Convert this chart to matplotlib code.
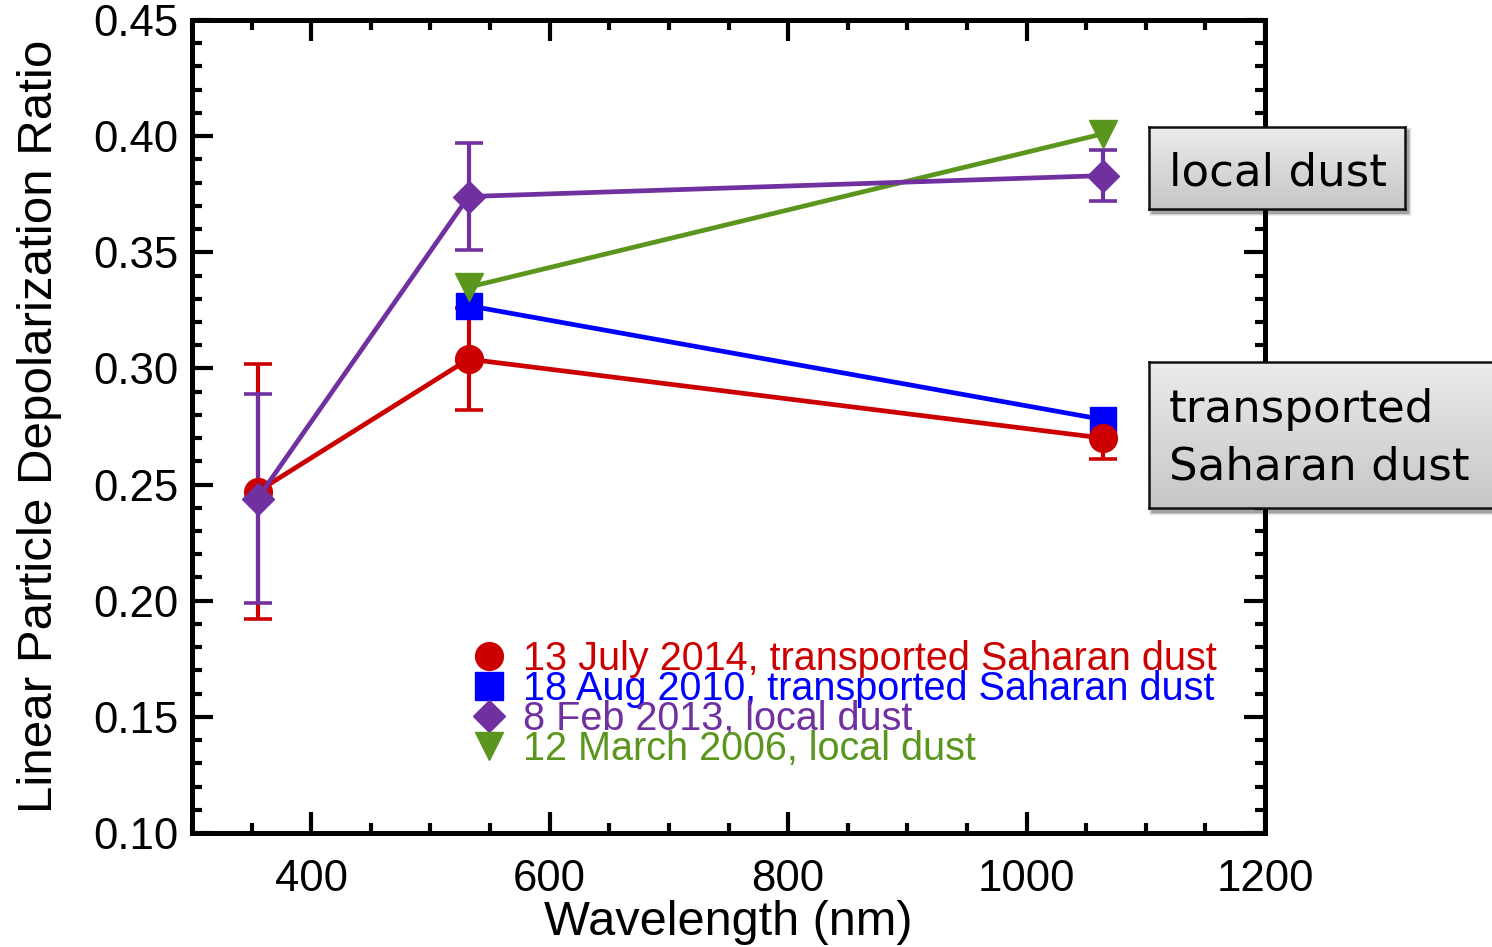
import numpy as np
import matplotlib
matplotlib.use("Agg")
import matplotlib.pyplot as plt
from matplotlib.ticker import MultipleLocator, FormatStrFormatter
from matplotlib.lines import Line2D
from matplotlib.patches import Rectangle
from matplotlib.colors import LinearSegmentedColormap

# ---- data -------------------------------------------------------------
wl_all = [355, 532, 1064]
wl_vis_ir = [532, 1064]

july2014 = [0.247, 0.304, 0.270]
july2014_err = [0.055, 0.022, 0.009]

aug2010 = [0.327, 0.278]

feb2013 = [0.244, 0.374, 0.383]
feb2013_err = [0.045, 0.023, 0.011]

march2006 = [0.335, 0.401]

labels = ["13 July 2014, transported Saharan dust",
          "18 Aug 2010, transported Saharan dust",
          "8 Feb 2013, local dust",
          "12 March 2006, local dust"]
colors = ["#cc0000", "#0000ff", "#7030a0", "#5a961e"]
markers = ["o", "s", "D", "v"]

W, H = 1492, 947
plt.rcParams["font.family"] = ["Liberation Sans", "DejaVu Sans"]

fig = plt.figure(figsize=(W / 100, H / 100), dpi=100)
ax = fig.add_axes([192 / W, 1 - 833 / H, (1265 - 192) / W, (833 - 20) / H])

lw = 3.4
ms = 20
err_kw = dict(elinewidth=3.0, capsize=10, capthick=2.6)

ax.errorbar(wl_all, july2014, yerr=july2014_err, color=colors[0], marker="o",
            ms=ms, lw=lw, **err_kw)
ax.plot(wl_vis_ir, aug2010, color=colors[1], marker="s", ms=ms - 1, lw=lw)
ax.errorbar(wl_all, feb2013, yerr=feb2013_err, color=colors[2], marker="D",
            ms=ms - 4, lw=lw, **err_kw)
ax.plot(wl_vis_ir, march2006, color=colors[3], marker="v", ms=ms, lw=lw)

ax.set_xlim(300, 1200)
ax.set_ylim(0.10, 0.45)
ax.xaxis.set_major_locator(MultipleLocator(200))
ax.xaxis.set_minor_locator(MultipleLocator(50))
ax.yaxis.set_major_locator(MultipleLocator(0.05))
ax.yaxis.set_minor_locator(MultipleLocator(0.01))
ax.yaxis.set_major_formatter(FormatStrFormatter("%.2f"))

for s in ax.spines.values():
    s.set_linewidth(3.6)
ax.tick_params(which="both", direction="in", top=True, right=True,
               width=3.0, labelsize=31.5, colors="black")
ax.tick_params(which="major", length=15, pad=10)
ax.tick_params(axis="x", which="major", pad=19)
ax.tick_params(which="minor", length=7.5)

ax.set_xlabel("Wavelength (nm)", fontsize=35, labelpad=0)
ax.set_ylabel("Linear Particle Depolarization Ratio", fontsize=35.5, labelpad=22)

handles = [Line2D([], [], ls="none", marker=m, color=c,
                  ms=(ms - 4 if m == "D" else ms))
           for m, c in zip(markers, colors)]
leg = ax.legend(handles, labels, loc="upper left",
                bbox_to_anchor=(477 / W, 1 - 640 / H),
                bbox_transform=fig.transFigure, frameon=False,
                fontsize=28.5, labelspacing=-0.2, handlelength=0.6,
                handletextpad=0.55, borderpad=0, borderaxespad=0,
                labelcolor=colors)


def label_box(x0, y0, x1, y1, lines):
    """Grey gradient box with a soft drop shadow, given in pixel coords."""
    for k, a in zip(range(7, 0, -1), [0.03, 0.04, 0.05, 0.06, 0.07, 0.08, 0.09]):
        fig.patches.append(Rectangle(((x0 + 3 - k / 2) / W, 1 - (y1 + 4 + k / 2) / H),
                                     (x1 - x0 + k) / W, (y1 - y0 + k) / H,
                                     transform=fig.transFigure, facecolor="black",
                                     edgecolor="none", alpha=a, zorder=5))
    bx = fig.add_axes([x0 / W, 1 - y1 / H, (x1 - x0) / W, (y1 - y0) / H], zorder=6)
    grad = np.linspace(0, 1, 256)[:, None]
    bx.imshow(grad, aspect="auto",
              cmap=LinearSegmentedColormap.from_list("g", ["#ececec", "#c6c6c6"]),
              extent=(0, 1, 0, 1), origin="upper")
    bx.set_xticks([])
    bx.set_yticks([])
    for s in bx.spines.values():
        s.set_linewidth(1.8)
        s.set_color("#111111")
    for (tx, ty, txt) in lines:
        fig.text(tx / W, 1 - ty / H, txt, fontsize=32.5, va="baseline", ha="left",
                 family=["DejaVu Sans"], color="black", zorder=7)


label_box(1149, 127, 1405, 209, [(1169, 185, "local dust")])
label_box(1149, 362, 1510, 508, [(1169, 422, "transported"),
                                 (1169, 480, "Saharan dust")])

fig.savefig("out.png", dpi=100)
